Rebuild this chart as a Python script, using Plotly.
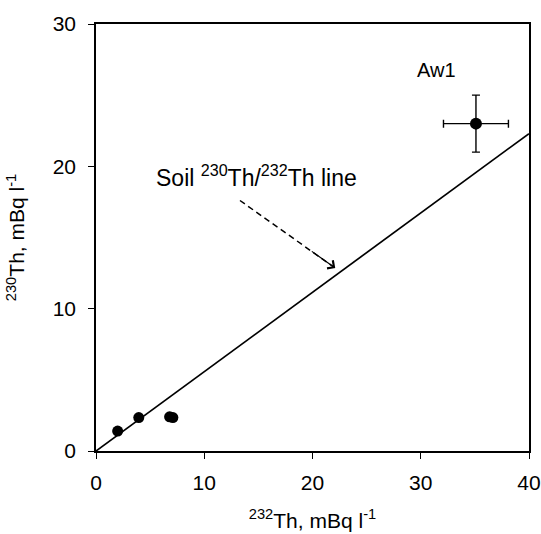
import plotly.graph_objects as go

# Water samples: 232Th vs 230Th activity (mBq/l)
th232 = [2.0, 3.95, 6.8, 7.1]
th230 = [1.4, 2.35, 2.4, 2.35]

# Sample Aw1 with uncertainties
aw1_th232 = [35.1]
aw1_th230 = [23.0]
aw1_err_x = [3.0]
aw1_err_y = [2.0]

# Soil 230Th/232Th reference line
soil_x = [0, 40]
soil_y = [0, 22.3]

# Dashed pointer from the label toward the soil line
pointer_x = [13.3, 22.1]
pointer_y = [17.6, 12.85]

font = "Liberation Sans, Arial, sans-serif"

fig = go.Figure()
fig.add_trace(go.Scatter(x=soil_x, y=soil_y, mode="lines",
                         line=dict(color="black", width=1.7), hoverinfo="skip"))
fig.add_trace(go.Scatter(x=pointer_x, y=pointer_y, mode="lines",
                         line=dict(color="black", width=1.5, dash="6px,4px"),
                         hoverinfo="skip"))
fig.add_trace(go.Scatter(x=th232, y=th230, mode="markers",
                         marker=dict(color="black", size=11, symbol="circle")))
fig.add_trace(go.Scatter(x=aw1_th232, y=aw1_th230, mode="markers",
                         marker=dict(color="black", size=12),
                         error_x=dict(type="data", array=aw1_err_x, color="black",
                                      thickness=1.4, width=4),
                         error_y=dict(type="data", array=aw1_err_y, color="black",
                                      thickness=1.4, width=4)))

# arrowhead at the end of the dashed pointer
fig.add_annotation(x=pointer_x[1], y=pointer_y[1], ax=pointer_x[0] + 6.5,
                   ay=pointer_y[0] - 3.5, xref="x", yref="y", axref="x", ayref="y",
                   text="", showarrow=True, arrowhead=4, arrowsize=1.6,
                   arrowwidth=1.2, arrowcolor="black", standoff=0)
fig.add_annotation(x=14.8, y=19.35, xref="x", yref="y",
                   text="Soil <sup>230</sup>Th/<sup>232</sup>Th line",
                   showarrow=False, font=dict(family=font, size=23, color="black"))
fig.add_annotation(x=31.5, y=26.8, xref="x", yref="y", text="Aw1",
                   showarrow=False, font=dict(family=font, size=20, color="black"))

axis_common = dict(showgrid=False, zeroline=False, showline=True, linecolor="black",
                   linewidth=1.5, mirror=True, ticks="outside", ticklen=6,
                   tickwidth=1.3, tickcolor="black", dtick=10, automargin=False,
                   tickfont=dict(family=font, size=21, color="black"))

fig.update_xaxes(range=[0, 40], tick0=0, ticklabelstandoff=6,
                 title=dict(text="<sup>232</sup>Th, mBq l<sup>-1</sup>",
                            font=dict(family=font, size=21, color="black"), standoff=20),
                 **axis_common)
fig.update_yaxes(range=[0, 30], tick0=0, ticklabelstandoff=8,
                 title=dict(text="<sup>230</sup>Th, mBq l<sup>-1</sup>",
                            font=dict(family=font, size=21, color="black"), standoff=22),
                 **axis_common)

fig.update_layout(width=541, height=534, showlegend=False,
                  plot_bgcolor="white", paper_bgcolor="white",
                  margin=dict(l=96, r=12, t=24, b=83))

fig.write_html("out.html")
